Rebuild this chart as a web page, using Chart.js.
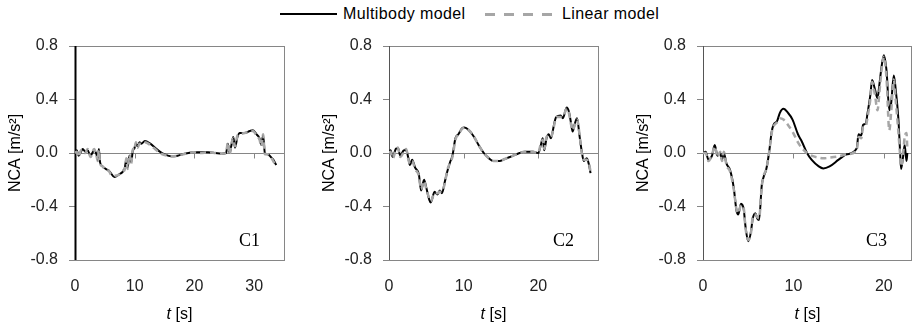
<!DOCTYPE html>
<html>
<head>
<meta charset="utf-8">
<script src="https://cdn.jsdelivr.net/npm/chart.js@4.4.0/dist/chart.umd.min.js"></script>
<style>
  body { margin: 0; width: 912px; height: 322px; background: #fff; position: relative; overflow: hidden;
         font-family: 'Liberation Sans', Arial, sans-serif; color: #000; }
  .panel { position: absolute; top: 0; height: 322px; }
  .xtitle { position: absolute; top: 304px; width: 209px; text-align: center; font-size: 16px; line-height: 19px; }
  .legend { position: absolute; top: 4px; font-size: 16px; line-height: 20px; }
  .legend-line { position: absolute; height: 2px; }
</style>
</head>
<body>

<div class="legend" style="left:0;top:0;width:912px;height:30px;">
  <div class="legend-line" style="left:280px;top:13px;width:57px;background:#000;"></div>
  <div style="position:absolute;left:343px;top:4px;letter-spacing:0.4px;">Multibody model</div>
  <div class="legend-line" style="left:485px;top:13px;width:68px;height:2.5px;background:repeating-linear-gradient(to right,#a6a6a6 0 10px,transparent 10px 19px);"></div>
  <div style="position:absolute;left:562px;top:4px;letter-spacing:0.4px;">Linear model</div>
</div>

<div class="panel" style="left:0;width:300px;"><canvas id="chartC1" width="300" height="322"></canvas></div>
<div class="panel" style="left:314px;width:300px;"><canvas id="chartC2" width="300" height="322"></canvas></div>
<div class="panel" style="left:628px;width:284px;"><canvas id="chartC3" width="284" height="322"></canvas></div>

<div class="xtitle" style="left:75px;"><i>t</i> [s]</div>
<div class="xtitle" style="left:389px;"><i>t</i> [s]</div>
<div class="xtitle" style="left:703px;"><i>t</i> [s]</div>

<script>
// Shared axis values
const yTicks = [-0.8, -0.4, 0.0, 0.4, 0.8];
const xMax = [35, 28, 23];

// C1 – time [s] and NCA [m/s2]
const c1Time = [0, 0.3, 0.6, 1.0, 1.3, 1.7, 2.1, 2.6, 3.2, 3.6, 3.8, 4.0, 4.2, 4.6, 5.2, 5.6, 6.0, 6.6, 7.4, 8.0,
    8.3, 8.6, 8.8, 9.1, 9.4, 9.7, 9.9, 10.2, 10.5, 10.8, 11.1, 11.7, 12.6, 13.4, 14.2, 15.0, 16.1, 17.2, 18.0, 19.0,
    19.8, 21.0, 22.3, 23.5, 24.5, 25.3, 25.6, 25.9, 26.2, 26.5, 26.8, 27.2, 27.6, 28.4, 29.3, 29.8, 30.4, 30.9, 31.2, 31.5,
    31.8, 32.3, 32.8, 33.2, 33.7];
const c1Multibody = [0.0, 0.02, -0.02, 0.01, 0.03, 0.01, 0.02, -0.02, 0.02, -0.01, -0.05, 0.03, -0.07, -0.1, -0.12, -0.13, -0.15, -0.18, -0.16, -0.14,
    -0.12, -0.05, -0.11, -0.02, -0.07, 0.02, 0.03, 0.07, 0.05, 0.08, 0.07, 0.09, 0.07, 0.04, 0.01, -0.01, -0.025, -0.02, -0.01, 0.0,
    0.005, 0.005, 0.005, 0.0, -0.005, 0.0, 0.07, 0.0, 0.06, 0.12, 0.04, 0.12, 0.15, 0.15, 0.165, 0.17, 0.14, 0.11, 0.06, 0.13,
    0.0, -0.01, -0.03, -0.05, -0.09];
const c1Linear = [0.0, 0.01, -0.03, 0.02, 0.02, 0.0, 0.03, -0.03, 0.03, -0.02, -0.06, 0.02, -0.08, -0.1, -0.13, -0.13, -0.16, -0.17, -0.16, -0.13,
    -0.13, -0.04, -0.12, -0.01, -0.08, 0.03, 0.02, 0.08, 0.04, 0.07, 0.07, 0.08, 0.06, 0.03, 0.0, -0.015, -0.025, -0.02, -0.01, 0.0,
    0.005, 0.0, 0.005, 0.0, -0.005, 0.0, 0.08, -0.01, 0.07, 0.11, 0.05, 0.13, 0.14, 0.15, 0.16, 0.165, 0.13, 0.1, 0.05, 0.14,
    -0.01, -0.01, -0.03, -0.06, -0.1];

// C2
const c2Time = [0, 0.2, 0.5, 0.9, 1.2, 1.5, 2.0, 2.3, 2.6, 2.8, 3.1, 3.5, 4.0, 4.3, 4.7, 5.0, 5.4, 5.6, 6.1, 6.5,
    6.8, 7.1, 7.5, 7.8, 8.2, 8.5, 8.9, 9.3, 9.8, 10.1, 10.7, 11.4, 12.0, 12.7, 13.4, 14.0, 14.8, 15.5, 16.2, 17.5,
    18.2, 19.3, 20.0, 20.3, 20.6, 20.8, 21.1, 21.4, 21.7, 22.1, 22.4, 23.0, 23.3, 23.8, 24.1, 24.4, 24.6, 24.9, 25.2, 25.5,
    25.8, 26.1, 26.5, 26.8, 27.0];
const c2Multibody = [0.0, 0.02, -0.03, 0.03, 0.04, -0.02, 0.02, 0.02, -0.04, -0.09, -0.05, -0.11, -0.16, -0.28, -0.2, -0.26, -0.35, -0.37, -0.29, -0.31,
    -0.28, -0.3, -0.21, -0.14, -0.065, -0.02, 0.11, 0.14, 0.185, 0.19, 0.17, 0.12, 0.06, 0.0, -0.04, -0.06, -0.06, -0.045, -0.03, 0.0,
    0.01, 0.01, 0.0, 0.05, 0.11, 0.02, 0.11, 0.14, 0.11, 0.21, 0.27, 0.28, 0.26, 0.34, 0.31, 0.22, 0.16, 0.22, 0.26, 0.14,
    0.02, -0.06, -0.04, -0.09, -0.15];
const c2Linear = [0.0, 0.01, -0.04, 0.02, 0.04, -0.03, 0.01, 0.03, -0.05, -0.08, -0.06, -0.12, -0.17, -0.27, -0.21, -0.27, -0.34, -0.36, -0.3, -0.3,
    -0.29, -0.29, -0.22, -0.13, -0.07, -0.03, 0.1, 0.14, 0.18, 0.19, 0.17, 0.12, 0.06, 0.0, -0.04, -0.06, -0.06, -0.045, -0.03, 0.0,
    0.01, 0.01, 0.0, 0.06, 0.1, 0.03, 0.12, 0.13, 0.12, 0.2, 0.27, 0.27, 0.27, 0.33, 0.3, 0.21, 0.17, 0.21, 0.25, 0.15,
    0.01, -0.05, -0.05, -0.08, -0.14];

// C3
const c3Time = [0, 0.3, 0.6, 1.0, 1.3, 1.6, 1.9, 2.1, 2.3, 2.6, 3.0, 3.4, 3.7, 3.9, 4.2, 4.5, 4.7, 5.0, 5.3, 5.5,
    5.8, 6.0, 6.2, 6.5, 6.7, 7.0, 7.3, 7.6, 7.8, 8.2, 8.5, 8.9, 9.4, 9.9, 10.5, 10.9, 11.5, 12.0, 12.8, 13.3,
    14.0, 15.0, 15.9, 17.0, 17.2, 17.5, 17.7, 18.0, 18.2, 18.5, 18.7, 19.0, 19.3, 19.5, 19.8, 20.0, 20.3, 20.6, 20.8, 21.1,
    21.3, 21.6, 21.8, 21.9, 22.1, 22.3, 22.5, 22.6];
const c3Multibody = [0.0, 0.01, -0.05, -0.02, 0.06, -0.02, 0.0, -0.05, 0.0, -0.08, -0.13, -0.26, -0.43, -0.46, -0.38, -0.42, -0.55, -0.66, -0.59, -0.49,
    -0.45, -0.49, -0.5, -0.24, -0.18, -0.12, 0.0, 0.16, 0.21, 0.24, 0.3, 0.33, 0.3, 0.25, 0.14, 0.09, 0.0, -0.05, -0.1, -0.115,
    -0.1, -0.05, -0.01, 0.035, 0.14, 0.13, 0.21, 0.22, 0.3, 0.43, 0.545, 0.48, 0.41, 0.51, 0.67, 0.73, 0.61, 0.32, 0.37, 0.58,
    0.48, 0.26, 0.0, -0.12, -0.04, 0.06, -0.06, 0.0];
const c3Linear = [0.0, 0.0, -0.06, -0.01, 0.05, -0.03, 0.01, -0.06, 0.01, -0.09, -0.14, -0.27, -0.42, -0.45, -0.39, -0.41, -0.56, -0.65, -0.6, -0.48,
    -0.46, -0.48, -0.49, -0.25, -0.17, -0.12, 0.0, 0.15, 0.2, 0.23, 0.26, 0.25, 0.21, 0.16, 0.08, 0.04, 0.0, -0.02, -0.035, -0.04,
    -0.035, -0.025, -0.01, 0.02, 0.12, 0.11, 0.19, 0.2, 0.27, 0.4, 0.53, 0.44, 0.32, 0.45, 0.65, 0.72, 0.55, 0.17, 0.3, 0.55,
    0.4, 0.16, -0.02, -0.1, -0.03, 0.12, 0.15, 0.02];

const fontFamily = "'Liberation Sans', Arial, sans-serif";
const gray = '#868686';

function toPoints(time, values) {
    return time.map((t, i) => ({ x: t, y: values[i] }));
}

// frame, zero-axis tick marks and the panel label
const framePlugin = {
    id: 'frame',
    beforeDatasetsDraw(chart) {
        const { ctx, chartArea: a, scales } = chart;
        const zeroY = Math.round(scales.y.getPixelForValue(0)) + 0.5;
        ctx.save();
        ctx.strokeStyle = gray;
        ctx.lineWidth = 1;
        ctx.strokeRect(Math.round(a.left) + 0.5, Math.round(a.top) + 0.5, Math.round(a.right - a.left), Math.round(a.bottom - a.top));
        scales.x.ticks.forEach(tick => {
            if (tick.value === 0) return;
            const x = Math.round(scales.x.getPixelForValue(tick.value)) + 0.5;
            ctx.beginPath();
            ctx.moveTo(x, zeroY);
            ctx.lineTo(x, zeroY + 5);
            ctx.stroke();
        });
        // vertical axis
        ctx.strokeStyle = chart.options.plugins.frame.axisColor;
        ctx.lineWidth = chart.options.plugins.frame.axisWidth;
        ctx.beginPath();
        ctx.moveTo(Math.round(a.left) + 0.5, a.top);
        ctx.lineTo(Math.round(a.left) + 0.5, a.bottom);
        ctx.stroke();
        ctx.restore();
    },
    afterDraw(chart) {
        const { ctx, chartArea: a } = chart;
        ctx.save();
        ctx.font = "18px 'Liberation Serif', 'Times New Roman', serif";
        ctx.fillStyle = '#000';
        ctx.textBaseline = 'alphabetic';
        ctx.fillText(chart.options.plugins.frame.label, a.right - 45, a.bottom - 14);
        ctx.restore();
    }
};

function makePanel(canvasId, label, time, multibody, linear, maxT, padRight, axisColor, axisWidth) {
    const ctx = document.getElementById(canvasId).getContext('2d');
    new Chart(ctx, {
        type: 'line',
        data: {
            datasets: [
                {
                    label: 'Multibody model',
                    data: toPoints(time, multibody),
                    borderColor: '#000',
                    borderWidth: 2,
                    pointRadius: 0,
                    cubicInterpolationMode: 'monotone',
                    order: 1
                },
                {
                    label: 'Linear model',
                    data: toPoints(time, linear),
                    borderColor: '#a6a6a6',
                    borderWidth: 2.5,
                    borderDash: [6, 4],
                    pointRadius: 0,
                    cubicInterpolationMode: 'monotone',
                    order: 0
                }
            ]
        },
        options: {
            responsive: false,
            animation: false,
            devicePixelRatio: 1,
            layout: { padding: { top: 46, right: padRight, left: 0, bottom: 0 } },
            plugins: {
                legend: { display: false },
                tooltip: { enabled: false },
                frame: { label: label, axisColor: axisColor, axisWidth: axisWidth }
            },
            scales: {
                x: {
                    type: 'linear',
                    min: 0,
                    max: maxT,
                    grid: { display: false },
                    border: { display: false },
                    ticks: {
                        stepSize: 10,
                        includeBounds: false,
                        padding: 9,
                        color: '#222',
                        font: { family: fontFamily, size: 16 },
                        maxRotation: 0
                    },
                    afterFit: s => { s.height = 62; }
                },
                y: {
                    type: 'linear',
                    min: yTicks[0],
                    max: yTicks[yTicks.length - 1],
                    afterBuildTicks: s => { s.ticks = yTicks.map(v => ({ value: v })); },
                    grid: {
                        color: c => Math.abs(c.tick.value) < 1e-9 ? gray : 'rgba(0,0,0,0)',
                        tickColor: gray,
                        tickLength: 6
                    },
                    border: { display: false },
                    ticks: {
                        padding: 11,
                        color: '#222',
                        font: { family: fontFamily, size: 16 },
                        callback: v => v.toFixed(1)
                    },
                    title: {
                        display: true,
                        text: 'NCA [m/s²]',
                        color: '#000',
                        font: { family: fontFamily, size: 16 },
                        padding: { top: 6, bottom: 0 }
                    },
                    afterFit: s => { s.width = 75; }
                }
            }
        },
        plugins: [framePlugin]
    });
}

makePanel('chartC1', 'C1', c1Time, c1Multibody, c1Linear, xMax[0], 16, '#000', 2);
makePanel('chartC2', 'C2', c2Time, c2Multibody, c2Linear, xMax[1], 16, '#555', 1);
makePanel('chartC3', 'C3', c3Time, c3Multibody, c3Linear, xMax[2], 1, '#555', 1);
</script>
</body>
</html>
